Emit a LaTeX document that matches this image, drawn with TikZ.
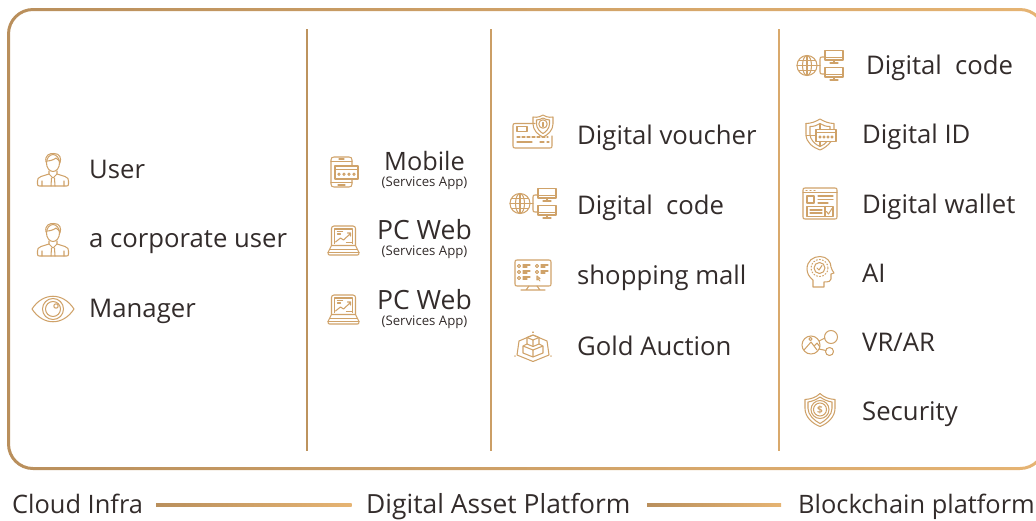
\documentclass[tikz,border=0pt]{standalone}
\usepackage{fontspec}
\setmainfont{Open Sans}
\definecolor{bronze}{HTML}{B98F5C}
\definecolor{bronzeb}{HTML}{E6B473}
\definecolor{gold}{HTML}{CFA269}
\definecolor{ink}{HTML}{332C2B}
\tikzset{
 x=1pt,y=-1pt,
 lbl/.style={anchor=base west,inner sep=0pt,text=ink,font=\fontsize{25.7}{26}\selectfont},
 mid/.style={anchor=base,inner sep=0pt,text=ink,font=\fontsize{26.5}{26}\selectfont},
 sub/.style={anchor=base,inner sep=0pt,text=ink,font=\fontsize{13.2}{13}\selectfont},
 ic/.style={draw=gold,line width=1.05pt,line join=round,line cap=round,fill=none},
 goldbar/.style={left color=bronze,right color=bronzeb},
 person/.pic={
  \draw[ic] (0,-7) ellipse (6.5 and 8.5);
  \draw[ic] (-7,-8) .. controls (-8.5,-15) and (-3,-17) .. (1,-16.5) .. controls (7,-16.5) and (8.5,-12) .. (7,-7);
  \draw[ic] (-6,-9) .. controls (-2,-9) and (2,-11) .. (3,-12) .. controls (4,-11) and (5,-10) .. (6.5,-9);
  \draw[ic] (-4,1) -- (-4,4) -- (0,8) -- (4,4) -- (4,1);
  \draw[ic] (-4,4) -- (-12,6.5) .. controls (-15,7.5) and (-15.5,9) .. (-15.5,11) -- (-15.5,14) .. controls (-15.5,15.5) and (-15,16) .. (-13.5,16) -- (13.5,16) .. controls (15,16) and (15.5,15.5) .. (15.5,14) -- (15.5,11) .. controls (15.5,9) and (15,7.5) .. (12,6.5) -- (4,4);
  \draw[ic] (-1.5,8) -- (-2,16) (1.5,8) -- (2,16) (-11,11) -- (-11,16) (11,11) -- (11,16);
 },
 eyeicon/.pic={
  \draw[ic] (-21,0) .. controls (-10,-17) and (10,-17) .. (21,0) .. controls (10,17) and (-10,17) .. (-21,0) -- cycle;
  \draw[ic] (0,0) circle (10.5);
  \draw[ic] (0,0) circle (7.5);
  \draw[ic] (3,-3) circle (2.2);
 },
 phoneicon/.pic={
  \draw[ic] (8,-6) -- (8,-12) .. controls (8,-14) and (7,-15) .. (5,-15) -- (-10,-15) .. controls (-12,-15) and (-13,-14) .. (-13,-12) -- (-13,12) .. controls (-13,14) and (-12,15) .. (-10,15) -- (5,15) .. controls (7,15) and (8,14) .. (8,12) -- (8,7);
  \draw[ic] (-13,-10.5) -- (8,-10.5) (-13,10.5) -- (8,10.5) (-5,-13) -- (0,-13) (-6,13) -- (1,13);
  \draw[ic] (-9,-6) rectangle (14,7);
  \draw[ic] (-9,-2.5) -- (14,-2.5);
  \foreach \a in {-5,0,5,10} \draw[ic] (\a,2.2) circle (1.2);
 },
 laptopicon/.pic={
  \draw[ic] (-12,5) -- (-12,-12) .. controls (-12,-13.5) and (-11,-14.5) .. (-9.5,-14.5) -- (9.5,-14.5) .. controls (11,-14.5) and (12,-13.5) .. (12,-12) -- (12,5);
  \draw[ic] (-9,3) -- (-9,-11.5) -- (9,-11.5) -- (9,3);
  \draw[ic] (-12,5) -- (12,5) -- (15.5,12) .. controls (15.5,14) and (15,14.5) .. (14,14.5) -- (-14,14.5) .. controls (-15,14.5) and (-15.5,14) .. (-15.5,12) -- cycle;
  \draw[ic] (-13.5,9) -- (13.5,9) (-4,12) -- (4,12) (-15.5,12) -- (15.5,12);
  \draw[ic] (-8,1.5) -- (-3,-2.5) -- (0,-.5) -- (7,-7) (4,-7.5) -- (7,-7.5) -- (7,-4.5);
  \draw[ic] (-6,-9) -- (-1,-9) (-6,-6.5) -- (-3,-6.5) (3,2) -- (8,2);
 },
 cardshield/.pic={
  \draw[ic] (2,-7.5) -- (-18,-7.5) .. controls (-19.5,-7.5) and (-20,-7) .. (-20,-5.5) -- (-20,15) .. controls (-20,16.5) and (-19.5,17) .. (-18,17) -- (17,17) .. controls (18.5,17) and (19,16.5) .. (19,15) -- (19,5);
  \draw[ic] (-16,-4.5) rectangle (-6,.5);
  \draw[ic,densely dashed] (-16,6) -- (15,6);
  \draw[ic] (-16,11) -- (-1,11) (7,11) -- (11,11) (14,11) -- (16,11);
  \draw[ic] (0,-14) .. controls (5,-13) and (8,-15) .. (10,-16) .. controls (12,-15) and (15,-13) .. (20,-14) -- (20,-7) .. controls (20,-1) and (15,4) .. (10,6) .. controls (5,4) and (0,-1) .. (0,-7) -- cycle;
  \draw[ic] (3.5,-11) .. controls (6,-11) and (8,-12) .. (10,-13) .. controls (12,-12) and (14,-11) .. (16.5,-11) -- (16.5,-7) .. controls (16.5,-3) and (13,1) .. (10,2.5) .. controls (7,1) and (3.5,-3) .. (3.5,-7) -- cycle;
  \draw[ic] (10,-7) circle (4.2);
  \draw[ic] (10,-8.5) -- (10,-4.5);
 },
 globeicon/.pic={
  \draw[ic] (-13,0) circle (10);
  \draw[ic] (-13,0) ellipse (4.5 and 10);
  \draw[ic] (-13,-10) -- (-13,10) (-23,0) -- (-3,0) (-21.5,-5) -- (-4.5,-5) (-21.5,5) -- (-4.5,5);
  \draw[ic] (-3,0) -- (0,0);
  \draw[ic] (4,-8.5) -- (2,-8.5) .. controls (0.5,-8.5) and (0,-8) .. (0,-6.5) -- (0,6.5) .. controls (0,8) and (.5,8.5) .. (2,8.5) -- (4,8.5);
  \foreach \yy in {-9,8}{
   \draw[ic] (5,\yy-6) rectangle (23,\yy+3.5);
   \draw[ic] (5,\yy+1) -- (23,\yy+1);
   \draw[ic] (14,\yy+3.5) -- (14,\yy+6) (10,\yy+6.5) -- (18,\yy+6.5);
  }
 },
 screenicon/.pic={
  \draw[ic] (-18,-13) .. controls (-18,-14.5) and (-17.5,-15) .. (-16,-15) -- (16,-15) .. controls (17.5,-15) and (18,-14.5) .. (18,-13) -- (18,9) .. controls (18,10.5) and (17.5,11) .. (16,11) -- (-16,11) .. controls (-17.5,11) and (-18,10.5) .. (-18,9) -- cycle;
  \draw[ic] (-4,11) -- (-7,15) (4,11) -- (7,15) (-12,15) -- (12,15);
  \foreach \yy in {-9,-3,3}{
   \draw[ic] (-14,\yy) circle (1.6);
   \draw[ic] (-10,\yy-1) -- (-3,\yy-1) (-10,\yy+1) -- (-6,\yy+1);
  }
  \foreach \yy in {-9,-3}{
   \draw[ic] (4,\yy) circle (1.6);
   \draw[ic] (8,\yy-1) -- (15,\yy-1) (8,\yy+1) -- (12,\yy+1);
  }
  \draw[ic] (4,1) -- (4,5) -- (5,4) -- (7,6) (4,1) -- (7,3.5) -- (5,4);
 },
 cubeicon/.pic={
  \draw[ic] (0,-12) -- (14,-6) -- (16,8) -- (0,14.5) -- (-16,8) -- (-14,-6) -- cycle;
  \draw[ic] (0,-12) -- (6,-9.5) -- (6,-3) -- (0,-.5) -- (-6,-3) -- (-6,-9.5) -- cycle;
  \draw[ic] (-6,-9.5) -- (0,-7) -- (6,-9.5) (0,-7) -- (0,-.5);
  \draw[ic] (-6,-3) -- (-10,-1) -- (-10,6) -- (0,10) -- (10,6) -- (10,-1) -- (6,-3) (-10,-1) -- (0,3) -- (10,-1) (0,3) -- (0,10);
  \draw[ic] (0,-15) -- (0,-14.5) (-18,9) -- (-18,9.2) (18,9) -- (18,9.2);
 },
 shieldcard/.pic={
  \draw[ic] (-14,-11) .. controls (-9,-11) and (-4,-13) .. (0,-15.5) .. controls (4,-13) and (9,-11) .. (14,-11) -- (14,-5);
  \draw[ic] (-14,-11) -- (-14,0) .. controls (-14,8) and (-7,13) .. (0,15.5) .. controls (4,14) and (8,11) .. (11,7);
  \draw[ic] (-10,-8) .. controls (-6,-8) and (-3,-9) .. (0,-11) .. controls (3,-9) and (6,-8) .. (10,-8) -- (10,-5) (-10,-8) -- (-10,0) .. controls (-10,5) and (-5,10) .. (0,12) .. controls (3,11) and (5,9) .. (7,7);
  \draw[ic] (0,-11) -- (0,-5) (0,7) -- (0,12) (-14,1) -- (-4,1) ;
  \draw[ic] (-4,-5) rectangle (16,7);
  \draw[ic] (-4,-2) -- (16,-2);
  \foreach \a in {0,4,8,12} \draw[ic] (\a,2.5) circle (1.1);
 },
 pageicon/.pic={
  \draw[ic] (-17,-13.5) .. controls (-17,-15) and (-16.5,-15.5) .. (-15,-15.5) -- (15,-15.5) .. controls (16.5,-15.5) and (17,-15) .. (17,-13.5) -- (17,13.5) .. controls (17,15) and (16.5,15.5) .. (15,15.5) -- (-15,15.5) .. controls (-16.5,15.5) and (-17,15) .. (-17,13.5) -- cycle;
  \draw[ic] (-17,-11) -- (17,-11) (-14,-13) -- (-13,-13) (-10,-13) -- (-9,-13) (-6,-13) -- (-5,-13);
  \draw[ic] (-13,-7.5) rectangle (-6,-.5);
  \draw[ic] (-2,-7.5) -- (13,-7.5) (-2,-4) -- (13,-4) (-2,-.5) -- (8,-.5);
  \draw[ic] (-13,3) rectangle (13,13);
  \draw[ic] (-10,6.5) -- (2,6.5) (-10,9.5) -- (2,9.5) (5,3) -- (5,13);
  \draw[ic] (6.5,8) -- (8.5,10.5) -- (12,5);
 },
 headicon/.pic={
  \draw[ic] (-7,15) -- (-7,8) .. controls (-11,5) and (-13,1) .. (-13,-3) .. controls (-13,-11) and (-7,-15.5) .. (0,-15.5) .. controls (7,-15.5) and (11,-10) .. (11,-5) .. controls (11,-3) and (13,-1) .. (14,1) -- (11,2) -- (11,7) .. controls (11,9) and (9,10) .. (4,10) -- (4,15) -- cycle;
  \draw[ic,dotted] (-.5,-4) circle (8.5);
  \draw[ic] (-.5,-4) circle (5.5);
  \draw[ic] (-3,-4) -- (-1,-2) -- (2,-6.5);
 },
 vricon/.pic={
  \draw[ic] (-9,3) circle (9);
  \draw[ic] (-16,8) -- (-9,0) -- (-3,8) (-6,4) -- (-3,1) -- (0,5);
  \draw[ic] (-9.5,-3) circle (1.6);
  \draw[ic] (11,-5) circle (6.5);
  \draw[ic] (9.5,9.5) circle (4);
  \draw[ic] (-1,-1) -- (5,-4) (-1,7) -- (6,8.5);
 },
 dollaricon/.pic={
  \draw[ic] (0,-17) .. controls (4,-13) and (9,-11.5) .. (15,-11) -- (15,-2) .. controls (15,6) and (8,13) .. (0,16) .. controls (-8,13) and (-15,6) .. (-15,-2) -- (-15,-11) .. controls (-9,-11.5) and (-4,-13) .. (0,-17) -- cycle;
  \draw[ic] (0,-13.5) .. controls (3.5,-11) and (8,-9) .. (12,-8.5) -- (12,-2) .. controls (12,4) and (6,10) .. (0,13) .. controls (-6,10) and (-12,4) .. (-12,-2) -- (-12,-8.5) .. controls (-8,-9) and (-3.5,-11) .. (0,-13.5) -- cycle;
  \draw[ic] (0,-1) circle (9);
  \draw[ic] (0,-1) circle (6.5);
  \node[inner sep=0pt,text=gold,font=\fontsize{10}{10}\selectfont\bfseries] (dollar) at (0,-1) {\$};
 },
}
\begin{document}
\begin{tikzpicture}
\useasboundingbox (0,0) rectangle (1036,520);
% frame
\shade[even odd rule,goldbar,rounded corners=26pt]
  (7,8) rectangle (1046,470) [rounded corners=23pt] (10,11) rectangle (1043,467);
% dividers
\fill[color=bronze!90!bronzeb] (305.7,29) rectangle (308.3,451);
\fill[color=bronze!60!bronzeb] (489.7,29) rectangle (492.3,451);
\fill[color=bronze!30!bronzeb] (777.7,29) rectangle (780.3,451);
% icons
\pic at (53,170) {person};
\pic at (53,240) {person};
\pic at (53,309) {eyeicon};
\pic at (344,172) {phoneicon};
\pic at (343.5,240.5) {laptopicon};
\pic at (343.5,309.5) {laptopicon};
\pic at (533,131) {cardshield};
\pic at (533,203.5) {globeicon};
\pic at (533,275) {screenicon};
\pic at (533,347) {cubeicon};
\pic at (820,65.5) {globeicon};
\pic at (820,134.5) {shieldcard};
\pic at (820,203.5) {pageicon};
\pic at (820,272) {headicon};
\pic at (820,342) {vricon};
\pic at (820,410.5) {dollaricon};
% text
\node[lbl] (u1) at (89,178.5) {User};
\node[lbl] (u2) at (89,247.5) {a corporate user};
\node[lbl] (u3) at (89,317.5) {Manager};
\node[mid,font=\fontsize{25.3}{26}\selectfont] (m1) at (424.5,170.5) {Mobile};
\node[sub] (m1s) at (424.5,186) {(Services App)};
\node[mid] (m2) at (424.5,239.5) {PC Web};
\node[sub] (m2s) at (424.5,255) {(Services App)};
\node[mid] (m3) at (424.5,309.5) {PC Web};
\node[sub] (m3s) at (424.5,325) {(Services App)};
\node[lbl] (c1) at (577,144.5) {Digital voucher};
\node[lbl] (c2) at (577,214.5) {Digital\ \ code};
\node[lbl] (c3) at (577,284.5) {shopping mall};
\node[lbl] (c4) at (577,355.5) {Gold Auction};
\node[lbl] (d1) at (866,74.5) {Digital\ \ code};
\node[lbl] (d2) at (862,143.5) {Digital ID};
\node[lbl] (d3) at (862,213.5) {Digital wallet};
\node[lbl] (d4) at (862,282.5) {AI};
\node[lbl] (d5) at (862,351.5) {VR/AR};
\node[lbl] (d6) at (862,420.5) {Security};
\node[lbl,font=\fontsize{25.4}{26}\selectfont] (b1) at (12,513.5) {Cloud Infra};
\node[lbl,font=\fontsize{26.4}{26}\selectfont] (b2) at (366,513.5) {Digital Asset Platform};
\node[lbl,font=\fontsize{25.4}{26}\selectfont] (b3) at (798,513.5) {Blockchain platform};
\coordinate (l1a) at (156,503.5);
\coordinate (l1b) at (351.5,506.5);
\coordinate (l2a) at (647,503.5);
\coordinate (l2b) at (781,506.5);
\shade[goldbar] (l1a) rectangle (l1b);
\shade[goldbar] (l2a) rectangle (l2b);
\end{tikzpicture}
\end{document}
